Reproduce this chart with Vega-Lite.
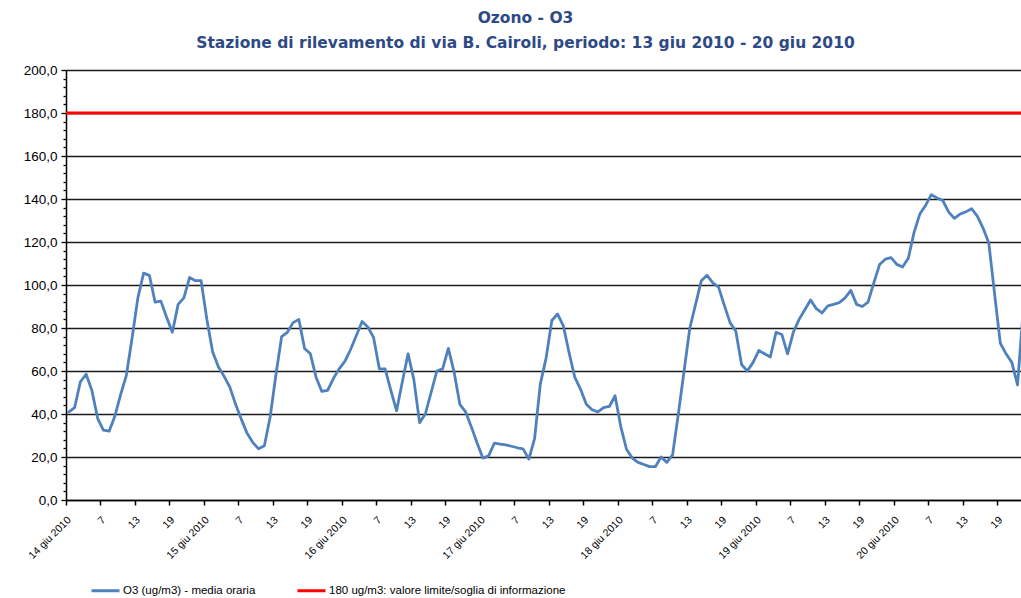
{
  "$schema": "https://vega.github.io/schema/vega-lite/v6.json",
  "width": 955,
  "height": 430,
  "autosize": {"type": "none"},
  "padding": {"left": 66, "top": 70, "right": 0, "bottom": 98},
  "background": "white",
  "config": {"view": {"stroke": null}, "font": "Liberation Sans"},
  "title": {
    "text": ["Ozono - O3", "Stazione di rilevamento di via B. Cairoli, periodo:  13 giu 2010 - 20 giu 2010"],
    "font": "DejaVu Sans",
    "fontSize": 15.5,
    "fontWeight": "bold",
    "color": "#2E4A86",
    "lineHeight": 25,
    "anchor": "middle",
    "dx": -18,
    "offset": 12
  },
  "layer": [
    {
      "data": {
        "values": [
          {"ora": 0, "O3": 41}, {"ora": 1, "O3": 43}, {"ora": 2, "O3": 55}, {"ora": 3, "O3": 58.5},
          {"ora": 4, "O3": 51}, {"ora": 5, "O3": 38}, {"ora": 6, "O3": 32.5}, {"ora": 7, "O3": 32},
          {"ora": 8, "O3": 39}, {"ora": 9, "O3": 49}, {"ora": 10, "O3": 58}, {"ora": 11, "O3": 75.5},
          {"ora": 12, "O3": 94}, {"ora": 13, "O3": 105.5}, {"ora": 14, "O3": 104.5}, {"ora": 15, "O3": 92},
          {"ora": 16, "O3": 92.5}, {"ora": 17, "O3": 85}, {"ora": 18, "O3": 78}, {"ora": 19, "O3": 91},
          {"ora": 20, "O3": 94}, {"ora": 21, "O3": 103.5}, {"ora": 22, "O3": 102}, {"ora": 23, "O3": 102},
          {"ora": 24, "O3": 84}, {"ora": 25, "O3": 69}, {"ora": 26, "O3": 62}, {"ora": 27, "O3": 57.5},
          {"ora": 28, "O3": 52.5}, {"ora": 29, "O3": 44.5}, {"ora": 30, "O3": 37.5}, {"ora": 31, "O3": 31},
          {"ora": 32, "O3": 26.7}, {"ora": 33, "O3": 23.8}, {"ora": 34, "O3": 25.2}, {"ora": 35, "O3": 38.5},
          {"ora": 36, "O3": 58}, {"ora": 37, "O3": 76}, {"ora": 38, "O3": 78}, {"ora": 39, "O3": 82.5},
          {"ora": 40, "O3": 84}, {"ora": 41, "O3": 70.5}, {"ora": 42, "O3": 68}, {"ora": 43, "O3": 57},
          {"ora": 44, "O3": 50.5}, {"ora": 45, "O3": 51}, {"ora": 46, "O3": 56.5}, {"ora": 47, "O3": 61},
          {"ora": 48, "O3": 64.5}, {"ora": 49, "O3": 70}, {"ora": 50, "O3": 76.5}, {"ora": 51, "O3": 83},
          {"ora": 52, "O3": 80.5}, {"ora": 53, "O3": 75.5}, {"ora": 54, "O3": 61}, {"ora": 55, "O3": 61},
          {"ora": 56, "O3": 51}, {"ora": 57, "O3": 41.5}, {"ora": 58, "O3": 55}, {"ora": 59, "O3": 68},
          {"ora": 60, "O3": 56}, {"ora": 61, "O3": 36}, {"ora": 62, "O3": 40}, {"ora": 63, "O3": 50},
          {"ora": 64, "O3": 60}, {"ora": 65, "O3": 61}, {"ora": 66, "O3": 70.5}, {"ora": 67, "O3": 59.5},
          {"ora": 68, "O3": 44.5}, {"ora": 69, "O3": 41}, {"ora": 70, "O3": 34}, {"ora": 71, "O3": 26.5},
          {"ora": 72, "O3": 19.5}, {"ora": 73, "O3": 20.5}, {"ora": 74, "O3": 26.4}, {"ora": 75, "O3": 26},
          {"ora": 76, "O3": 25.6}, {"ora": 77, "O3": 25}, {"ora": 78, "O3": 24.3}, {"ora": 79, "O3": 23.8},
          {"ora": 80, "O3": 19}, {"ora": 81, "O3": 28.6}, {"ora": 82, "O3": 54}, {"ora": 83, "O3": 66},
          {"ora": 84, "O3": 83.5}, {"ora": 85, "O3": 86.5}, {"ora": 86, "O3": 81}, {"ora": 87, "O3": 68.5},
          {"ora": 88, "O3": 57}, {"ora": 89, "O3": 51.5}, {"ora": 90, "O3": 44.5}, {"ora": 91, "O3": 42},
          {"ora": 92, "O3": 41}, {"ora": 93, "O3": 43}, {"ora": 94, "O3": 43.5}, {"ora": 95, "O3": 48.5},
          {"ora": 96, "O3": 34}, {"ora": 97, "O3": 23.5}, {"ora": 98, "O3": 19.5}, {"ora": 99, "O3": 17.5},
          {"ora": 100, "O3": 16.5}, {"ora": 101, "O3": 15.5}, {"ora": 102, "O3": 15.5}, {"ora": 103, "O3": 20},
          {"ora": 104, "O3": 17.5}, {"ora": 105, "O3": 21}, {"ora": 106, "O3": 40}, {"ora": 107, "O3": 60},
          {"ora": 108, "O3": 80}, {"ora": 109, "O3": 91}, {"ora": 110, "O3": 102}, {"ora": 111, "O3": 104.5},
          {"ora": 112, "O3": 101}, {"ora": 113, "O3": 99}, {"ora": 114, "O3": 90.5}, {"ora": 115, "O3": 82.5},
          {"ora": 116, "O3": 78.5}, {"ora": 117, "O3": 63}, {"ora": 118, "O3": 60}, {"ora": 119, "O3": 64},
          {"ora": 120, "O3": 69.5}, {"ora": 121, "O3": 68}, {"ora": 122, "O3": 66.5}, {"ora": 123, "O3": 78},
          {"ora": 124, "O3": 77}, {"ora": 125, "O3": 68}, {"ora": 126, "O3": 78}, {"ora": 127, "O3": 84},
          {"ora": 128, "O3": 88.5}, {"ora": 129, "O3": 93}, {"ora": 130, "O3": 89}, {"ora": 131, "O3": 87},
          {"ora": 132, "O3": 90.3}, {"ora": 133, "O3": 91}, {"ora": 134, "O3": 91.8}, {"ora": 135, "O3": 94},
          {"ora": 136, "O3": 97.5}, {"ora": 137, "O3": 91}, {"ora": 138, "O3": 90}, {"ora": 139, "O3": 92},
          {"ora": 140, "O3": 101}, {"ora": 141, "O3": 109.5}, {"ora": 142, "O3": 112}, {"ora": 143, "O3": 112.7},
          {"ora": 144, "O3": 109.6}, {"ora": 145, "O3": 108.4}, {"ora": 146, "O3": 112.4}, {"ora": 147, "O3": 124.5},
          {"ora": 148, "O3": 133}, {"ora": 149, "O3": 137}, {"ora": 150, "O3": 142}, {"ora": 151, "O3": 140.5},
          {"ora": 152, "O3": 139.3}, {"ora": 153, "O3": 134}, {"ora": 154, "O3": 131}, {"ora": 155, "O3": 133},
          {"ora": 156, "O3": 134}, {"ora": 157, "O3": 135.5}, {"ora": 158, "O3": 132}, {"ora": 159, "O3": 126.5},
          {"ora": 160, "O3": 119.5}, {"ora": 161, "O3": 96}, {"ora": 162, "O3": 73}, {"ora": 163, "O3": 68},
          {"ora": 164, "O3": 64}, {"ora": 165, "O3": 53.5}, {"ora": 166, "O3": 89}
        ]
      },
      "mark": {"type": "line", "clip": true, "strokeWidth": 2.8, "strokeJoin": "round", "strokeCap": "round"},
      "encoding": {
        "x": {
          "field": "ora",
          "type": "quantitative",
          "scale": {"domain": [-0.5, 165.6], "nice": false, "zero": false},
          "axis": {
            "title": null,
            "grid": false,
            "tickCount": 200,
            "values": [-0.5, 5.5, 11.5, 17.5, 23.5, 29.5, 35.5, 41.5, 47.5, 53.5, 59.5, 65.5, 71.5, 77.5, 83.5, 89.5, 95.5, 101.5, 107.5, 113.5, 119.5, 125.5, 131.5, 137.5, 143.5, 149.5, 155.5, 161.5],
            "labelExpr": "round(datum.value + 0.5) % 24 == 0 ? (14 + round(datum.value + 0.5) / 24) + ' giu 2010' : '' + (round(datum.value + 0.5) % 24 + 1)",
            "labelAngle": -45,
            "labelAlign": "right",
            "labelBaseline": "middle",
            "labelFontSize": 10.5,
            "labelColor": "#000000",
            "labelPadding": 13,
            "labelOffset": 3,
            "labelOverlap": false,
            "labelFlush": false,
            "tickSize": 5,
            "tickColor": "#000000",
            "tickWidth": 1.5,
            "domainColor": "#000000",
            "domainWidth": 1.5
          }
        },
        "y": {
          "field": "O3",
          "type": "quantitative",
          "scale": {"domain": [0, 200], "nice": false},
          "axis": {
            "title": null,
            "tickCount": 200,
            "values": [0, 4, 8, 12, 16, 20, 24, 28, 32, 36, 40, 44, 48, 52, 56, 60, 64, 68, 72, 76, 80, 84, 88, 92, 96, 100, 104, 108, 112, 116, 120, 124, 128, 132, 136, 140, 144, 148, 152, 156, 160, 164, 168, 172, 176, 180, 184, 188, 192, 196, 200],
            "labelExpr": "datum.value % 20 == 0 ? replace(format(datum.value, '.1f'), '.', ',') : ''",
            "labelFontSize": 13.5,
            "labelColor": "#000000",
            "labelOverlap": false,
            "labelPadding": 4,
            "grid": true,
            "gridColor": "#1a1a1a",
            "gridWidth": 1.4,
            "gridOpacity": {"condition": {"test": "datum.value % 20 == 0", "value": 1}, "value": 0},
            "tickSize": {"condition": {"test": "datum.value % 20 == 0", "value": 5}, "value": 3},
            "tickColor": "#000000",
            "tickWidth": 1.3,
            "domainColor": "#000000",
            "domainWidth": 1.5
          }
        },
        "color": {
          "datum": "O3 (ug/m3)  - media oraria",
          "scale": {
            "domain": ["O3 (ug/m3)  - media oraria", "180 ug/m3: valore limite/soglia di informazione"],
            "range": ["#4F81BD", "#FF0000"]
          },
          "legend": {
            "title": null,
            "orient": "none",
            "legendX": 24,
            "legendY": 505,
            "direction": "horizontal",
            "symbolType": "stroke",
            "symbolSize": 784,
            "symbolStrokeWidth": 3,
            "labelFontSize": 11.5,
            "labelLimit": 500,
            "labelColor": "#000000",
            "labelOffset": 2,
            "columnPadding": 32,
            "padding": 0
          }
        }
      }
    },
    {
      "data": {"values": [{"soglia": 180}]},
      "mark": {"type": "rule", "strokeWidth": 3},
      "encoding": {
        "y": {"field": "soglia", "type": "quantitative"},
        "color": {"datum": "180 ug/m3: valore limite/soglia di informazione"}
      }
    }
  ]
}
